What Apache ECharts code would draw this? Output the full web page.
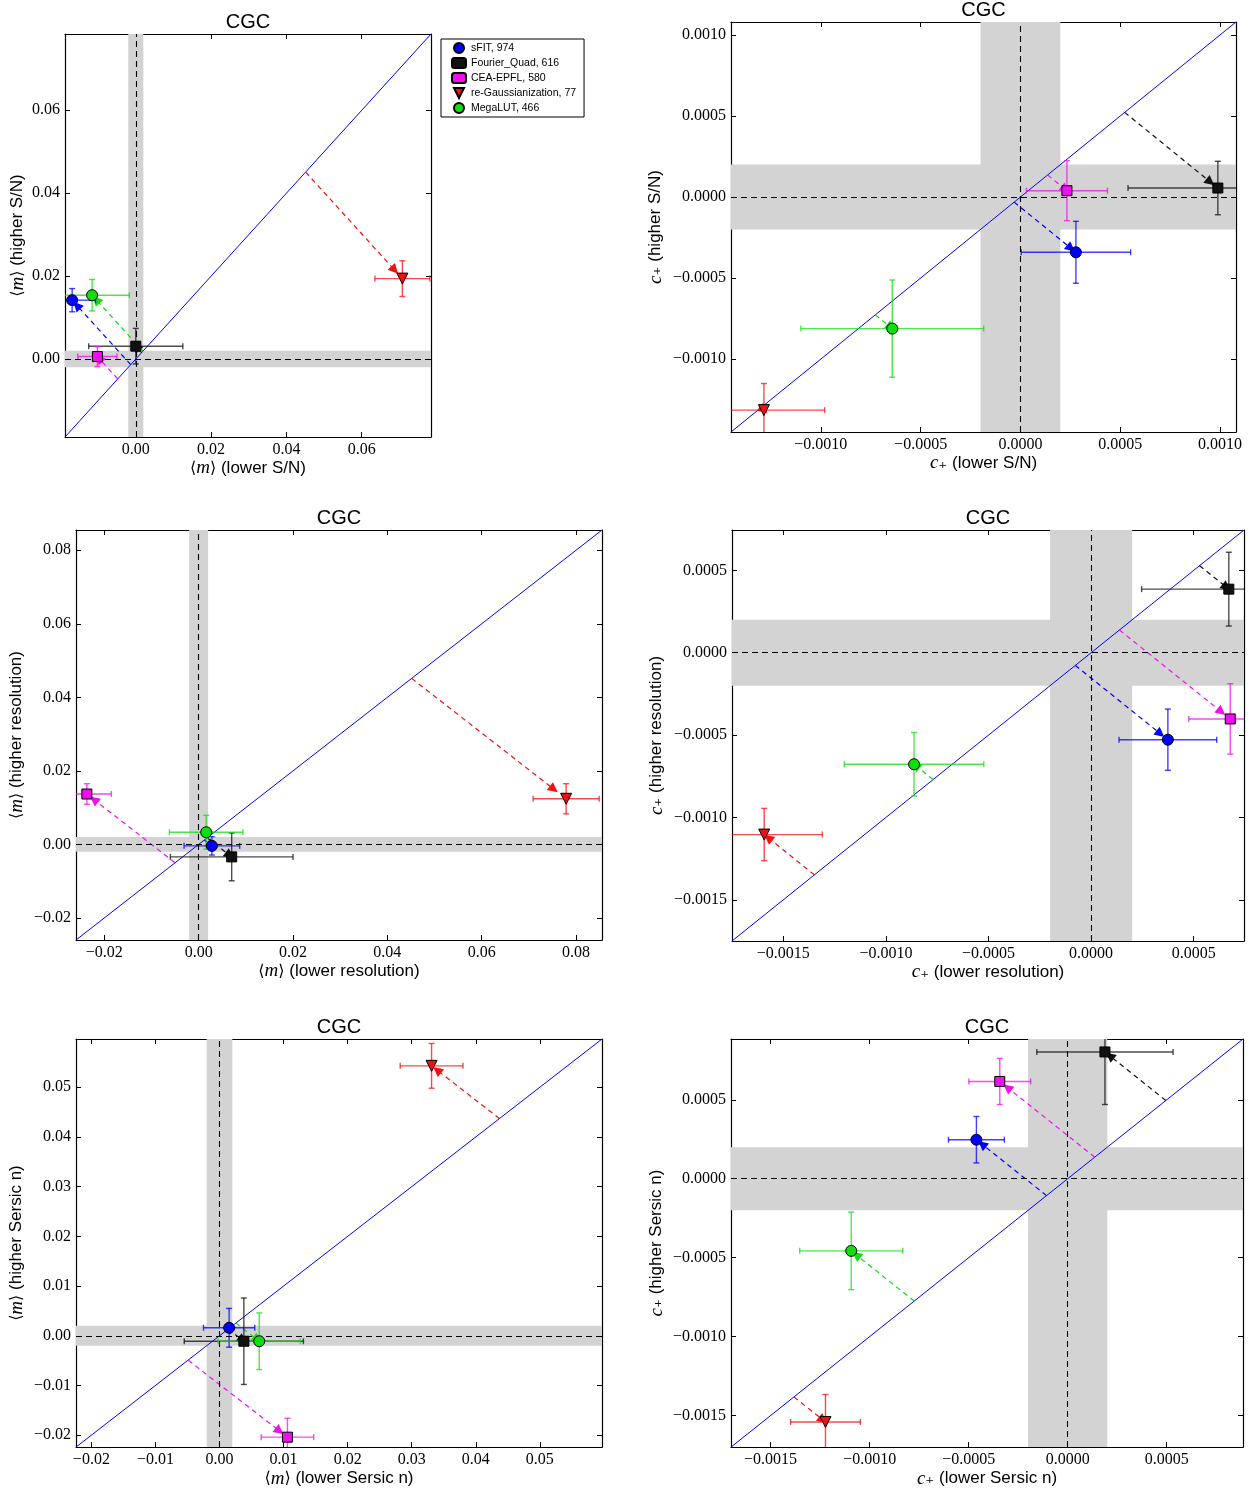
<!DOCTYPE html>
<html><head><meta charset="utf-8">
<script src="https://cdn.jsdelivr.net/npm/echarts@6/dist/echarts.min.js"></script>
<style>html,body{margin:0;padding:0;background:#fff}#c{width:1251px;height:1489px}</style>
</head><body><div id="c"></div>
<script>
// ---------- data (order: sFIT, Fourier_Quad, CEA-EPFL, re-Gaussianization, MegaLUT)
const methods = ['sFIT, 974', 'Fourier_Quad, 616', 'CEA-EPFL, 580', 're-Gaussianization, 77', 'MegaLUT, 466'];

// Panel 1: <m>, S/N split
const snM_x    = [-0.0169, 0.0000, -0.0102, 0.0708, -0.0116];
const snM_y    = [0.0142, 0.0031, 0.0006, 0.0194, 0.0154];
const snM_xerr = [0.0062, 0.0125, 0.0052, 0.0073, 0.0099];
const snM_yerr = [0.0028, 0.0043, 0.0024, 0.0043, 0.0038];
const snM_range = [-0.0188, 0.0784];
const snM_ticks = [0.00, 0.02, 0.04, 0.06];

// Panel 2: c+, S/N split
const snC_x    = [0.000278, 0.000989, 0.000233, -0.001285, -0.000642];
const snC_y    = [-0.000341, 0.0000555, 0.000039, -0.001315, -0.000812];
const snC_xerr = [0.000274, 0.000450, 0.000203, 0.000304, 0.000458];
const snC_yerr = [0.000191, 0.000165, 0.000185, 0.000164, 0.000300];
const snC_range = [-0.00145, 0.00108];
const snC_ticks = [-0.0010, -0.0005, 0.0000, 0.0005, 0.0010];

// Panel 3: <m>, resolution split
const resM_x    = [0.0028, 0.0070, -0.0237, 0.0779, 0.0016];
const resM_y    = [-0.0004, -0.0034, 0.0137, 0.0124, 0.0033];
const resM_xerr = [0.0059, 0.0130, 0.0052, 0.0070, 0.0078];
const resM_yerr = [0.0025, 0.0065, 0.0028, 0.0041, 0.0046];
const resM_range = [-0.0260, 0.0855];
const resM_ticks = [-0.02, 0.00, 0.02, 0.04, 0.06, 0.08];

// Panel 4: c+, resolution split
const resC_x    = [0.000374, 0.000671, 0.000678, -0.001593, -0.000863];
const resC_y    = [-0.000528, 0.000386, -0.000402, -0.001104, -0.000677];
const resC_xerr = [0.000238, 0.000425, 0.000202, 0.000283, 0.000340];
const resC_yerr = [0.000186, 0.000224, 0.000214, 0.000159, 0.000193];
const resC_range = [-0.00175, 0.000745];
const resC_ticks = [-0.0015, -0.0010, -0.0005, 0.0000, 0.0005];

// Panel 5: <m>, Sersic n split
const serM_x    = [0.0015, 0.0038, 0.0106, 0.0331, 0.0062];
const serM_y    = [0.0016, -0.0011, -0.0204, 0.0543, -0.0011];
const serM_xerr = [0.0040, 0.0093, 0.0041, 0.0049, 0.0064];
const serM_yerr = [0.0039, 0.0087, 0.0038, 0.0045, 0.0057];
const serM_range = [-0.0224, 0.0597];
const serM_ticks = [-0.02, -0.01, 0.00, 0.01, 0.02, 0.03, 0.04, 0.05];

// Panel 6: c+, Sersic n split
const serC_x    = [-0.000461, 0.000188, -0.000343, -0.001223, -0.001093];
const serC_y    = [0.000247, 0.000803, 0.000616, -0.001541, -0.000457];
const serC_xerr = [0.000141, 0.000344, 0.000156, 0.000176, 0.000260];
const serC_yerr = [0.000147, 0.000333, 0.000146, 0.000174, 0.000246];
const serC_range = [-0.00170, 0.000885];
const serC_ticks = [-0.0015, -0.0010, -0.0005, 0.0000, 0.0005];

const bandM = 0.002, bandC = 0.0002;
const arrowFrac = 0.92;

// ---------- styles
const colors = ['#0000ff', '#111111', '#ee11ee', '#ee1111', '#11dd11'];
const symbols = ['circle', 'rect', 'rect', 'triangle', 'circle'];
const symRot = [0, 0, 0, 180, 0];
const symSize = [11, 10, 10, 11, 11];

const M = (t) => '{a|\u27E8}{i|m}{a|\u27E9} ' + t;
const C = (t) => '{i|c}{s|\u208A} ' + t;

const panels = [
  {x: snM_x, y: snM_y, xe: snM_xerr, ye: snM_yerr, range: snM_range, ticks: snM_ticks, dec: 2, band: bandM,
   xname: M('(lower S/N)'), yname: M('(higher S/N)'), rect: [65, 34, 366, 403], ygap: 38},
  {x: snC_x, y: snC_y, xe: snC_xerr, ye: snC_yerr, range: snC_range, ticks: snC_ticks, dec: 4, band: bandC,
   xname: C('(lower S/N)'), yname: C('(higher S/N)'), rect: [731, 22, 505, 410], ygap: 66},
  {x: resM_x, y: resM_y, xe: resM_xerr, ye: resM_yerr, range: resM_range, ticks: resM_ticks, dec: 2, band: bandM,
   xname: M('(lower resolution)'), yname: M('(higher resolution)'), rect: [76, 530, 526, 410], ygap: 50},
  {x: resC_x, y: resC_y, xe: resC_xerr, ye: resC_yerr, range: resC_range, ticks: resC_ticks, dec: 4, band: bandC,
   xname: C('(lower resolution)'), yname: C('(higher resolution)'), rect: [732, 530, 512, 411], ygap: 66},
  {x: serM_x, y: serM_y, xe: serM_xerr, ye: serM_yerr, range: serM_range, ticks: serM_ticks, dec: 2, band: bandM,
   xname: M('(lower Sersic n)'), yname: M('(higher Sersic n)'), rect: [76, 1039, 526, 410], ygap: 50},
  {x: serC_x, y: serC_y, xe: serC_xerr, ye: serC_yerr, range: serC_range, ticks: serC_ticks, dec: 4, band: bandC,
   xname: C('(lower Sersic n)'), yname: C('(higher Sersic n)'), rect: [731, 1039, 512, 411], ygap: 65},
];

const serif = 'Liberation Serif';
const sans = 'Liberation Sans';
const nameRich = {
  a: {fontFamily: 'DejaVu Serif', fontSize: 16, color: '#000'},
  i: {fontFamily: serif, fontStyle: 'italic', fontSize: 19, color: '#000'},
  s: {fontFamily: 'DejaVu Serif', fontSize: 17, color: '#000'}
};

function fmt(dec) {
  return v => v.toFixed(dec).replace('-', '\u2212');
}

const grid = [], xAxis = [], yAxis = [], series = [], graphic = [];

panels.forEach((p, i) => {
  const [l, t, w, h] = p.rect;
  grid.push({left: l, top: t, width: w, height: h, containLabel: false});
  const [lo, hi] = p.range;
  const common = (pos, main, name, gap) => ({
    type: 'value', gridIndex: i, min: lo, max: hi, position: pos,
    axisLine: {show: true, onZero: false, lineStyle: {color: '#000', width: 1.2}},
    axisTick: {show: true, inside: true, length: 5, customValues: p.ticks, lineStyle: {color: '#000', width: 1}},
    axisLabel: {show: main, customValues: p.ticks, formatter: fmt(p.dec), fontFamily: serif, fontSize: 16,
                color: '#000', margin: 5},
    splitLine: {show: false},
    name: main ? name : '', nameLocation: 'middle', nameGap: gap,
    nameTextStyle: {fontFamily: sans, fontSize: 17, color: '#000', rich: nameRich}
  });
  xAxis.push(common('bottom', true, p.xname, 19));
  xAxis.push(common('top', false, '', 0));
  yAxis.push(common('left', true, p.yname, p.ygap));
  yAxis.push(common('right', false, '', 0));

  const ax = {xAxisIndex: 2 * i, yAxisIndex: 2 * i};

  // bands + zero lines (carried by an invisible copy of the diagonal)
  series.push(Object.assign({
    type: 'line', data: [[lo, lo], [hi, hi]], showSymbol: false, silent: true, z: 1,
    lineStyle: {opacity: 0},
    markArea: {silent: true, itemStyle: {color: '#d3d3d3', opacity: 1},
      data: [[{xAxis: -p.band}, {xAxis: p.band}], [{yAxis: -p.band}, {yAxis: p.band}]]},
    markLine: {silent: true, symbol: ['none', 'none'], label: {show: false},
      lineStyle: {color: '#000', type: [6, 4], width: 1.1},
      data: [{xAxis: 0}, {yAxis: 0}]}
  }, ax));

  // diagonal y = x
  series.push(Object.assign({
    type: 'line', data: [[lo, lo], [hi, hi]], showSymbol: false, silent: true, z: 2,
    lineStyle: {color: '#0000ff', width: 1}
  }, ax));

  // arrows from the diagonal to each point
  series.push(Object.assign({
    type: 'lines', coordinateSystem: 'cartesian2d', silent: true, z: 3,
    symbol: ['none', 'triangle'], symbolSize: 10,
    data: methods.map((m, k) => {
      const d = (p.x[k] + p.y[k]) / 2;
      return {coords: [[d, d], [d + arrowFrac * (p.x[k] - d), d + arrowFrac * (p.y[k] - d)]],
              lineStyle: {color: colors[k], type: [5, 4], width: 1.2, opacity: 1}};
    })
  }, ax));

  // error bars
  series.push(Object.assign({
    type: 'custom', silent: true, z: 4,
    data: methods.map((m, k) => [p.x[k], p.y[k], p.xe[k], p.ye[k], k]),
    encode: {x: 0, y: 1},
    renderItem: (params, api) => {
      const x = api.value(0), y = api.value(1), xe = api.value(2), ye = api.value(3), k = api.value(4);
      const st = {stroke: colors[k], lineWidth: 1.4, opacity: 0.75};
      const ch = [];
      const x0 = Math.max(x - xe, lo), x1 = Math.min(x + xe, hi);
      const y0 = Math.max(y - ye, lo), y1 = Math.min(y + ye, hi);
      const a = api.coord([x0, y]), b = api.coord([x1, y]);
      const c = api.coord([x, y0]), d = api.coord([x, y1]);
      ch.push({type: 'line', shape: {x1: a[0], y1: a[1], x2: b[0], y2: b[1]}, style: st});
      ch.push({type: 'line', shape: {x1: c[0], y1: c[1], x2: d[0], y2: d[1]}, style: st});
      const cap = 3;
      if (x - xe >= lo) ch.push({type: 'line', shape: {x1: a[0], y1: a[1] - cap, x2: a[0], y2: a[1] + cap}, style: st});
      if (x + xe <= hi) ch.push({type: 'line', shape: {x1: b[0], y1: b[1] - cap, x2: b[0], y2: b[1] + cap}, style: st});
      if (y - ye >= lo) ch.push({type: 'line', shape: {x1: c[0] - cap, y1: c[1], x2: c[0] + cap, y2: c[1]}, style: st});
      if (y + ye <= hi) ch.push({type: 'line', shape: {x1: d[0] - cap, y1: d[1], x2: d[0] + cap, y2: d[1]}, style: st});
      return {type: 'group', children: ch};
    }
  }, ax));

  // markers
  methods.forEach((m, k) => {
    series.push(Object.assign({
      type: 'scatter', name: m, z: 5, silent: true,
      symbol: symbols[k], symbolRotate: symRot[k], symbolSize: symSize[k],
      itemStyle: {color: colors[k], borderColor: '#000', borderWidth: 1, opacity: 1},
      data: [[p.x[k], p.y[k]]]
    }, ax));
  });

  graphic.push({type: 'text', x: l + w / 2, y: t - 12, silent: true,
    style: {text: 'CGC', font: '20px "Liberation Sans"', fill: '#000', textAlign: 'center', textVerticalAlign: 'middle'}});
});

const legendIcons = ['circle', 'roundRect', 'roundRect', 'path://M0,0 L10,0 L5,10 Z', 'circle'];

const option = {
  animation: false,
  backgroundColor: '#fff',
  grid, xAxis, yAxis, series, graphic,
  legend: {
    orient: 'vertical', left: 441, top: 39,
    backgroundColor: '#fff', borderColor: '#000', borderWidth: 1, borderRadius: 0,
    padding: [3, 8, 3, 10], itemGap: 3, itemWidth: 14, itemHeight: 10, itemTextGap: 20,
    selectedMode: false,
    textStyle: {fontFamily: sans, fontSize: 10.5, color: '#000', lineHeight: 12},
    data: methods.map((m, k) => ({name: m, icon: legendIcons[k]}))
  }
};

const chart = echarts.init(document.getElementById('c'), null, {renderer: 'canvas'});
chart.setOption(option);
</script></body></html>
